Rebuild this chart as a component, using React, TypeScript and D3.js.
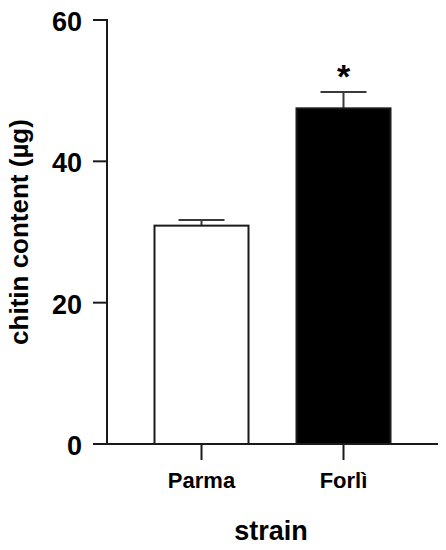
import React from "react";
import * as d3 from "d3";

const categories = ["Parma", "Forlì"];
const means = [30.9, 47.5];
const errors = [0.8, 2.3];
const fills = ["#ffffff", "#000000"];
const significance = ["", "*"];
const yTicks = [0, 20, 40, 60];
const yLabel = "chitin content (µg)";
const xLabel = "strain";

const W = 446;
const H = 550;
const FONT = "'Liberation Sans', Arial, Helvetica, sans-serif";

export default function App() {
  const y = d3.scaleLinear().domain([0, 60]).range([444, 20]);
  const x = d3
    .scaleBand<string>()
    .domain(categories)
    .range([107, 438])
    .paddingInner(0.338)
    .paddingOuter(0.3345);
  const axisX = 107;
  const axisY = y(0);
  const bw = x.bandwidth();
  const capHalf = 23;

  return (
    <svg
      width={W}
      height={H}
      style={{ position: "absolute", left: 0, top: 0, background: "#fff" }}
      fontFamily={FONT}
      fontWeight="bold"
    >
      <rect x={0} y={0} width={W} height={H} fill="#fff" />
      {/* bars */}
      {categories.map((c, i) => {
        const x0 = x(c)!;
        const cx = x0 + bw / 2;
        const top = y(means[i]);
        const errTop = y(means[i] + errors[i]);
        return (
          <g key={c}>
            <line x1={cx} x2={cx} y1={top} y2={errTop} stroke="#3a3a3a" strokeWidth={2} />
            <line x1={cx - capHalf} x2={cx + capHalf} y1={errTop} y2={errTop} stroke="#3a3a3a" strokeWidth={2} />
            <rect
              x={x0}
              y={top}
              width={bw}
              height={axisY - top}
              fill={fills[i]}
              stroke="#1a1a1a"
              strokeWidth={2}
            />
            {significance[i] && (
              <text x={cx} y={errTop - 4} textAnchor="middle" fontSize={34} fill="#000">
                {significance[i]}
              </text>
            )}
          </g>
        );
      })}
      {/* y axis */}
      <line x1={axisX} x2={axisX} y1={y(60) - 1} y2={axisY} stroke="#1a1a1a" strokeWidth={2} />
      {yTicks.map((t) => (
        <g key={t}>
          <line x1={93} x2={axisX} y1={y(t)} y2={y(t)} stroke="#1a1a1a" strokeWidth={2} />
          <text x={82} y={y(t) + 11} textAnchor="end" fontSize={27} fill="#000">
            {t}
          </text>
        </g>
      ))}
      {/* x axis */}
      <line x1={93} x2={438} y1={axisY} y2={axisY} stroke="#1a1a1a" strokeWidth={2} />
      {categories.map((c) => {
        const cx = x(c)! + bw / 2;
        return (
          <g key={c}>
            <line x1={cx} x2={cx} y1={axisY} y2={axisY + 16} stroke="#1a1a1a" strokeWidth={2} />
            <text x={cx} y={488} textAnchor="middle" fontSize={22} fill="#000">
              {c}
            </text>
          </g>
        );
      })}
      <text x={271} y={540} textAnchor="middle" fontSize={27} fill="#000">
        {xLabel}
      </text>
      <text
        transform={`translate(28, ${232}) rotate(-90)`}
        textAnchor="middle"
        fontSize={26}
        fill="#000"
      >
        {yLabel}
      </text>
    </svg>
  );
}
